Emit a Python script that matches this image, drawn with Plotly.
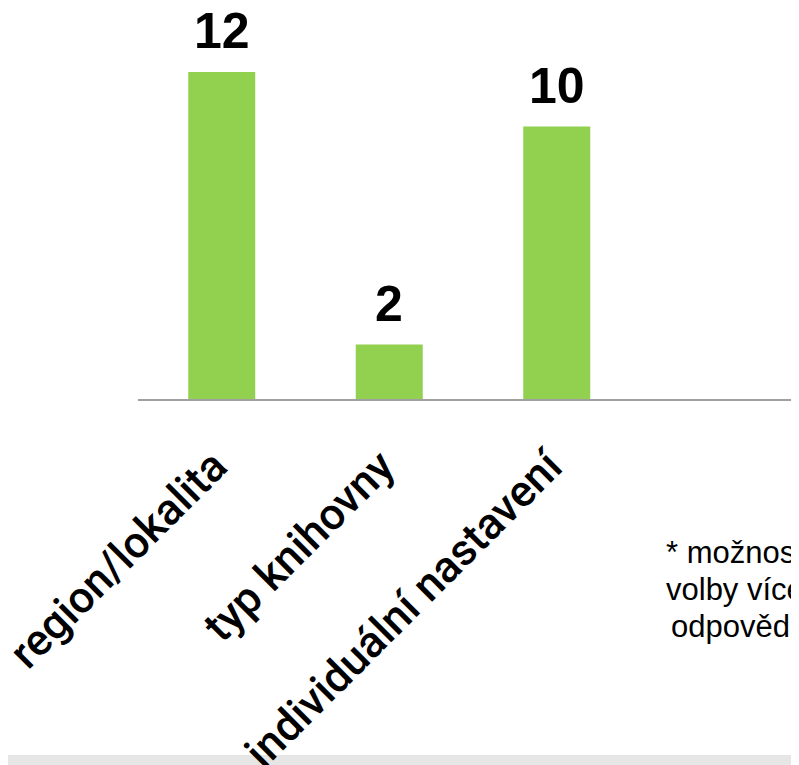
import plotly.graph_objects as go

categories = ["region/lokalita", "typ knihovny", "individuální nastavení"]
values = [12, 2, 10]
value_labels = ["12", "2", "10"]
note_lines = ["* možnost", "volby více", "odpovědí"]

# the page draws the figure offset by the 8px body margin -> work in figure coords
OFF = 8
W, H = 799 - OFF, 765 - OFF
ML, MT = 138 - OFF, 0
PLOT_H = 399 - OFF
MB = H - MT - PLOT_H
plot_w = W - ML

fig = go.Figure()
fig.add_trace(go.Bar(
    x=categories, y=values, width=0.4,
    marker=dict(color="#92D050", line=dict(width=0)),
    hoverinfo="skip",
))

for c, v, t in zip(categories, values, value_labels):
    fig.add_annotation(x=c, y=v, text="<b>%s</b>" % t, showarrow=False, yanchor="bottom",
                       yshift=11, font=dict(family="Liberation Sans", size=50, color="#000000"))

def px_x(px):
    return (px - OFF - ML) / plot_w
def px_y(py):
    return (PLOT_H - (py - OFF)) / PLOT_H

for i, line in enumerate(note_lines):
    fig.add_annotation(xref="paper", yref="paper", x=px_x(735), y=px_y(552 + 37 * i),
                       text=line, showarrow=False, align="center",
                       xanchor="center", yanchor="middle",
                       font=dict(family="Liberation Sans", size=31, color="#000000"))

fig.add_shape(type="rect", xref="paper", yref="paper", layer="below",
              x0=px_x(OFF), x1=px_x(W + OFF), y0=px_y(755), y1=px_y(H + OFF + 5),
              fillcolor="#e6e6e6", line=dict(width=0))

fig.update_layout(
    width=W, height=H,
    margin=dict(l=ML, r=0, t=MT, b=MB, pad=0, autoexpand=False),
    paper_bgcolor="white", plot_bgcolor="white",
    showlegend=False,
    xaxis=dict(range=[-0.5, -0.5 + plot_w / 167.5], showline=True, linecolor="#a0a0a0",
               linewidth=2, showgrid=False, zeroline=False, ticks="", tickangle=-45,
               automargin=False,
               tickmode="array", tickvals=categories,
               ticktext=[c + "\u00a0" for c in categories],
               ticklabelstandoff=14,
               tickfont=dict(family="Roboto", size=44, weight=500, color="#000000")),
    yaxis=dict(range=[0, PLOT_H / 27.25], visible=False, showgrid=False, zeroline=False,
               automargin=False),
)

fig.write_html("out.html")
